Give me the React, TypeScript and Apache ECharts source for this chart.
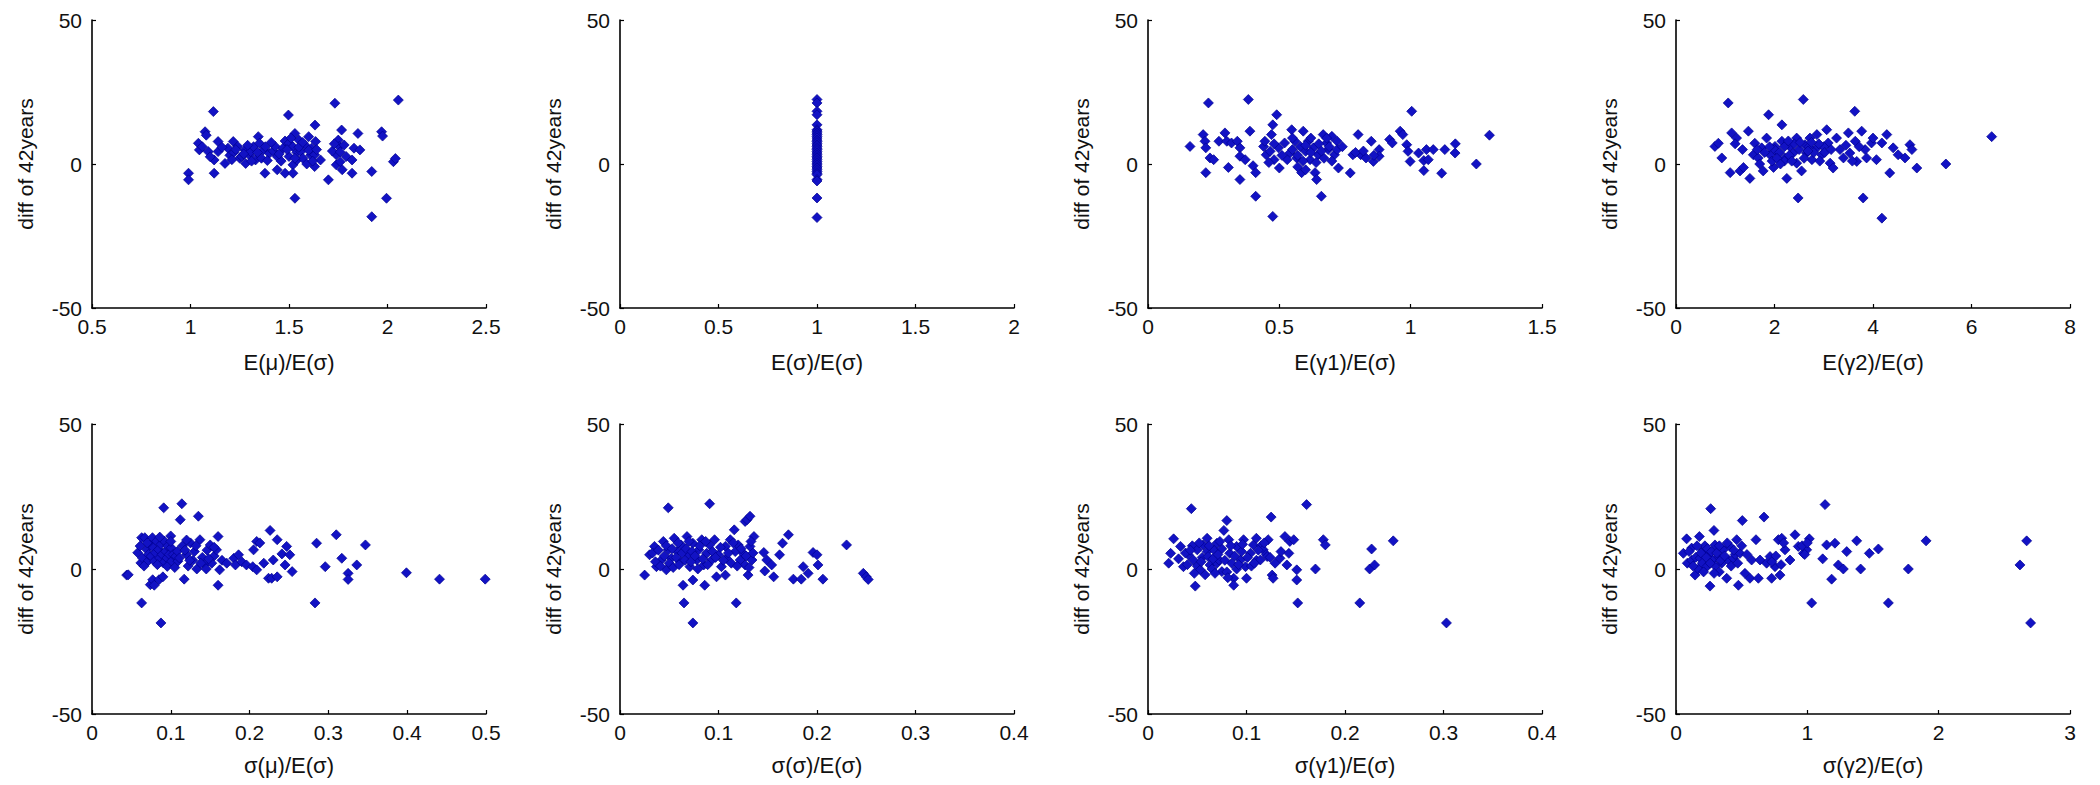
import React, { useEffect, useRef } from "react";
import * as echarts from "echarts";

// ---------- data ----------
const yAxisTitle = "diff of 42years";
const xTitles = [
  "E(μ)/E(σ)",
  "E(σ)/E(σ)",
  "E(γ1)/E(σ)",
  "E(γ2)/E(σ)",
  "σ(μ)/E(σ)",
  "σ(σ)/E(σ)",
  "σ(γ1)/E(σ)",
  "σ(γ2)/E(σ)",
];
// [min, max, interval] for each panel's x axis
const xRanges: [number, number, number][] = [
  [0.5, 2.5, 0.5],
  [0, 2, 0.5],
  [0, 1.5, 0.5],
  [0, 8, 2],
  [0, 0.5, 0.1],
  [0, 0.4, 0.1],
  [0, 0.4, 0.1],
  [0, 3, 1],
];
const yRange: [number, number, number] = [-50, 50, 50];

const meanMu: [number, number][] = [
  [0.99, -3.2], [0.99, -5.5], [1.04, 7.2], [1.045, 4.9], [1.074, 11.2], [1.08, 10], [1.09, 4.3], [1.116, 18.2],
  [1.12, 1.4], [1.12, -3.2], [1.14, 7.8], [1.14, 4.3], [1.175, 0.2], [1.19, 5.5], [1.2, 3], [1.217, 7.8],
  [1.22, 4], [1.24, 6.1], [1.25, 2], [1.26, 2.6], [1.277, 4.9], [1.28, 0.2], [1.3, 3], [1.305, 4.3],
  [1.32, 6], [1.33, 1.4], [1.344, 9.5], [1.35, 7.2], [1.36, 2], [1.37, 4.9], [1.378, -3.2], [1.4, 3.7],
  [1.42, 4.5], [1.43, 6.1], [1.44, 2.6], [1.44, -2], [1.46, 1], [1.47, 5.5], [1.48, 8], [1.48, -3.2],
  [1.497, 17], [1.5, 7.2], [1.5, 2.6], [1.52, 6], [1.52, -0.3], [1.52, -3.2], [1.53, -11.9], [1.53, 10.6],
  [1.54, 1.4], [1.54, 4], [1.55, 8.3], [1.56, 4.3], [1.57, 2], [1.58, 6.6], [1.59, 0], [1.6, 9.5],
  [1.61, 3], [1.615, 5.5], [1.63, 3.2], [1.632, 13.5], [1.635, 7.8], [1.63, -0.9], [1.66, 1.4], [1.7, -5.5],
  [1.733, 21.1], [1.74, 3.2], [1.74, -0.3], [1.75, 8.3], [1.755, 6.1], [1.76, 0.8], [1.767, 11.8], [1.77, -2],
  [1.78, 6.6], [1.79, 2.6], [1.82, 1.4], [1.82, -3.2], [1.83, 5.5], [1.85, 10.6], [1.86, 4.9], [1.92, -2.6],
  [1.92, -18.3], [1.97, 11.2], [1.975, 9.7], [1.995, -11.9], [2.03, 0.8], [2.04, 1.9], [2.055, 22.2],
  [1.06, 6], [1.1, 2.5], [1.16, 5.8], [1.21, 1.5], [1.23, 5], [1.27, 3.5], [1.29, 6.5], [1.31, 1],
  [1.34, 4], [1.38, 6], [1.39, 1.2], [1.41, 7.5], [1.45, 3.5], [1.49, 5], [1.51, 9], [1.53, 2],
  [1.55, 5.8], [1.57, 7.5], [1.6, 4.8], [1.62, 1], [1.64, 5], [1.72, 4.5], [1.73, 7], [1.76, 4.2],
];

const meanSigma: [number, number][] = [
  [1, 22.4], [1, 21.2], [1, 18.3], [1, 17.1], [1, 13.6], [1, 11.9], [1, 11.4], [1, 10.8], [1, 10.2],
  [1, 9.6], [1, 9.0], [1, 8.3], [1, 7.8], [1, 7.2], [1, 6.6], [1, 6.1], [1, 5.5], [1, 5.0], [1, 4.4],
  [1, 3.8], [1, 3.2], [1, 2.6], [1, 2.1], [1, 1.5], [1, 0.9], [1, 0.3], [1, -0.3], [1, -0.9], [1, -1.4],
  [1, -2.0], [1, -2.6], [1, -3.2], [1, -3.7], [1, -5.4], [1, -5.9], [1, -11.8], [1, -18.6],
];

const meanG1: [number, number][] = [
  [0.16, 6.1], [0.21, 10.2], [0.217, 7.9], [0.22, 5.6], [0.23, 21.2], [0.236, 2.1], [0.25, 1.5], [0.22, -3.0],
  [0.27, 7.9], [0.293, 10.8], [0.3, 7.9], [0.318, 7.3], [0.34, 7.9], [0.35, 5.6], [0.306, -1.2], [0.35, 2.7],
  [0.37, 1.5], [0.382, 22.4], [0.388, 11.4], [0.35, -5.4], [0.4, -0.6], [0.41, -3], [0.41, -11.2], [0.475, -18.2],
  [0.475, 13.6], [0.47, 10.2], [0.49, 17.1], [0.44, 6.1], [0.45, 3.2], [0.445, 7.9], [0.465, 4.4], [0.48, 1.5],
  [0.497, 5.6], [0.5, -1.4], [0.52, 7.3], [0.547, 11.9], [0.54, 3.8], [0.56, 7.9], [0.566, 2.1], [0.58, 6.1],
  [0.585, -3], [0.591, 11.4], [0.6, 4.4], [0.61, 7.9], [0.617, 1.5], [0.63, 5.6], [0.636, -3], [0.642, -5.4],
  [0.648, 3.2], [0.66, -11.2], [0.667, 10.2], [0.68, 7.3], [0.686, 5.0], [0.7, 9.6], [0.71, 3.2], [0.72, 7.9],
  [0.725, -1.4], [0.77, -3.1], [0.78, 3.2], [0.8, 10.2], [0.81, 3.2], [0.83, 2.1], [0.85, 7.9], [0.858, 0.9],
  [0.88, 5.0], [0.88, 2.7], [0.92, 8.5], [0.93, 7.3], [0.96, 11.4], [0.97, 10.2], [0.985, 6.7], [0.99, 4.4],
  [0.998, 0.9], [1.004, 18.3], [1.03, 3.8], [1.05, -2.3], [1.05, 1.2], [1.06, 5], [1.067, 1.5], [1.086, 5.0],
  [1.118, -3.2], [1.13, 5], [1.169, 3.8], [1.17, 7], [1.25, 0], [1.3, 10],
  [0.55, 5], [0.57, 3], [0.59, 1], [0.62, 4], [0.65, 7], [0.67, 2], [0.69, 6], [0.53, 1.5], [0.6, 6.5],
  [0.46, 0.5], [0.48, 7], [0.51, 3], [0.55, 9], [0.57, -1], [0.6, -2], [0.62, 9], [0.64, 0.5],
  [0.66, 4.5], [0.68, 9], [0.7, 1], [0.72, 5], [0.74, 6], [0.79, 4], [0.82, 4.5], [0.86, 3],
];

const meanG2: [number, number][] = [
  [0.79, 6.1], [0.86, 7.2], [0.93, 2.1], [1.06, 21.2], [1.1, -3.0], [1.13, 10.8], [1.23, 9.0], [1.3, -2.4],
  [1.37, -1.2], [1.47, 11.4], [1.5, -5], [1.57, 3.2], [1.6, 7.2], [1.67, 2.1], [1.74, 5.6], [1.77, -2.4],
  [1.84, 9.0], [1.88, 17.1], [1.91, 3.2], [1.98, -1.2], [2.01, 6.1], [2.08, 3.8], [2.15, 7.9], [2.15, 13.6],
  [2.21, 2.1], [2.25, -5], [2.31, 6.1], [2.38, 3.8], [2.45, 9.0], [2.45, 0.3], [2.48, -11.8], [2.55, -2.4],
  [2.585, 22.4], [2.62, 6.7], [2.65, 3.8], [2.72, 9.0], [2.76, 1.5], [2.86, 5.6], [2.86, 10.2], [2.96, 3.2],
  [3.06, 11.9], [3.09, 7.3], [3.13, 0.3], [3.19, -1.4], [3.26, 9.0], [3.33, 5.0], [3.4, 2.1], [3.5, 10.8],
  [3.53, 3.8], [3.63, 18.3], [3.64, 7.9], [3.67, 0.9], [3.77, 11.4], [3.8, -11.8], [3.84, 5.0], [3.87, 2.1],
  [3.97, 7.3], [4.0, 9.0], [4.07, 1.5], [4.18, -18.8], [4.18, 7.3], [4.28, 10.2], [4.34, -3.1], [4.41, 5.6],
  [4.51, 3.2], [4.65, 2.1], [4.75, 6.7], [4.79, 5.0], [4.89, -1.4], [5.48, 0], [6.41, 9.5],
  [2.0, 5], [2.1, 4], [2.2, 6], [2.3, 3], [2.5, 5], [2.6, 2], [2.7, 6], [2.8, 4], [1.8, 4], [1.9, 6],
  [2.4, 7], [3.0, 6], [2.2, 1], [2.9, 7],
  [1.2, 7], [1.35, 5], [1.65, 5], [1.7, 0], [1.95, 1], [2.05, 2], [2.12, 0], [2.28, 8], [2.35, 1],
  [2.52, 7.5], [2.68, 4.5], [2.75, 7.5], [2.92, 1], [3.02, 4], [3.15, 5], [3.45, 6.5], [3.58, 1], [3.72, 6],
];

const sdMu: [number, number][] = [
  [0.044, -2.1], [0.046, -2], [0.058, 5.6], [0.061, 7.9], [0.062, 2.1], [0.063, 10.8], [0.063, -11.7], [0.064, 3.8],
  [0.067, 10.8], [0.0695, 6.7], [0.071, 2.7], [0.0716, 5.0], [0.074, -5.4], [0.0736, 8.5], [0.075, 4.4], [0.0767, 10.8],
  [0.077, -3.7], [0.078, 7.3], [0.079, -5.6], [0.0793, 2.7], [0.0806, 5.6], [0.082, 9.6], [0.0845, 6.7], [0.085, -3.7],
  [0.0857, 3.8], [0.0875, -18.6], [0.0876, 8.5], [0.089, 5.0], [0.09, -2.7], [0.0906, 2.1], [0.091, 21.1], [0.092, 9.6],
  [0.0935, 6.1], [0.095, 3.8], [0.0955, 0.9], [0.096, 7.9], [0.098, 5.0], [0.0999, 11.4], [0.1005, 7.3], [0.101, 2.7],
  [0.103, 5.0], [0.1065, 4.4], [0.1085, 6.1], [0.109, 2.7], [0.111, 3.8], [0.112, 17], [0.114, 22.5], [0.117, -3.5],
  [0.115, 8], [0.12, 5], [0.122, 1], [0.125, 9], [0.128, 3], [0.13, 6], [0.133, 0], [0.135, 18.2],
  [0.137, 10.1], [0.14, 4], [0.143, 1.5], [0.146, 6.5], [0.15, 8.3], [0.152, 2], [0.155, 4.5], [0.158, 6.6],
  [0.16, 11.2], [0.16, -5.6], [0.162, -0.3], [0.165, 3], [0.171, 2.0], [0.18, 3.7], [0.182, 1.4], [0.186, 4.9],
  [0.19, 2.5], [0.196, 1.4], [0.204, 0.8], [0.205, 6.6], [0.209, 9.5], [0.209, -0.3], [0.213, 9], [0.218, 2.0],
  [0.224, -3.2], [0.226, 13.3], [0.228, -3.2], [0.23, 3.1], [0.235, 10.1], [0.235, -2.7], [0.241, 5.2], [0.245, 1.4],
  [0.247, 7.8], [0.251, 4.9], [0.254, -0.9], [0.283, -11.7], [0.285, 8.9], [0.296, 0.8], [0.31, 11.8], [0.317, 3.7],
  [0.325, -1.5], [0.325, -3.6], [0.336, 1.4], [0.347, 8.3], [0.399, -1.3], [0.441, -3.5], [0.499, -3.5],
  [0.066, 1], [0.07, 9], [0.083, 1.5], [0.086, 11], [0.1, 9.5], [0.105, 0.5], [0.118, 6.5], [0.12, 10],
  [0.124, 3], [0.132, 8], [0.138, 2], [0.145, 0], [0.148, 3.5], [0.155, 7.5],
];

const sdSigma: [number, number][] = [
  [0.025, -2.1], [0.03, 4.9], [0.035, 7.8], [0.037, 0.8], [0.042, 3.1], [0.044, 9.5], [0.047, -0.3], [0.049, 6.6],
  [0.049, 21.1], [0.052, 3.7], [0.055, 10.6], [0.058, 6.0], [0.061, 2.5], [0.062, 8.3], [0.064, -5.6], [0.065, -11.7],
  [0.068, 11.2], [0.069, 4.9], [0.071, 0.8], [0.074, 8.9], [0.074, -3.8], [0.074, -18.6], [0.078, 3.1], [0.08, 6.6],
  [0.083, 10.1], [0.085, 1.4], [0.086, -5.6], [0.088, 5.4], [0.091, 8.3], [0.091, 22.5], [0.093, 3.1], [0.096, 10.1],
  [0.098, -2.7], [0.1, 4.9], [0.103, 0.8], [0.107, 7.8], [0.107, -2.1], [0.108, 3.7], [0.112, 10.1], [0.113, 2.0],
  [0.116, 13.5], [0.117, 6.0], [0.118, -11.7], [0.12, 8.3], [0.122, 3.1], [0.125, 5.4], [0.127, 1.4], [0.127, 16.4],
  [0.129, 17], [0.13, -2.1], [0.132, 7.8], [0.132, 18.2], [0.134, 3.1], [0.136, 11.2], [0.146, 5.7], [0.147, -0.7],
  [0.149, 3.1], [0.154, 1.4], [0.156, -2.7], [0.162, 4.9], [0.165, 8.9], [0.171, 11.8], [0.176, -3.5], [0.184, -3.5],
  [0.186, 0.8], [0.191, -1.5], [0.196, 5.7], [0.2, 4.9], [0.201, 1.4], [0.206, -3.5], [0.23, 8.3], [0.247, -1.5],
  [0.25, -2.7], [0.252, -3.6],
  [0.033, 5.5], [0.036, 2.5], [0.039, 6.5], [0.041, 1], [0.045, 4.5], [0.047, 8], [0.05, 2], [0.053, 7],
  [0.054, 0.5], [0.057, 4], [0.059, 9], [0.06, 1.5], [0.063, 5.5], [0.066, 3], [0.067, 7], [0.07, 9.5],
  [0.072, 2.5], [0.073, 6], [0.076, 4.5], [0.079, 0], [0.081, 8], [0.084, 3.5], [0.087, 9.5], [0.089, 1.5],
  [0.094, 6], [0.097, 4], [0.102, 7.5], [0.105, 3], [0.11, 5.5], [0.115, 9], [0.119, 1], [0.123, 7],
  [0.128, 4.5], [0.131, 0.5], [0.133, 9.5], [0.135, 5.5],
];

const sdG1: [number, number][] = [
  [0.021, 2], [0.023, 5.4], [0.026, 10.4], [0.033, 7.8], [0.036, 0.8], [0.041, 4.9], [0.044, 20.8], [0.045, 8],
  [0.046, 3.1], [0.048, -5.9], [0.05, 6.6], [0.05, 1], [0.053, -0.3], [0.055, 4], [0.056, 8.3], [0.06, 10.6],
  [0.06, 6], [0.061, 4.3], [0.063, 1.4], [0.065, 0], [0.067, 6.6], [0.07, 8.9], [0.07, 2], [0.072, 3.1],
  [0.075, -0.9], [0.075, 7], [0.077, 13.3], [0.08, 16.7], [0.08, -1], [0.082, 10.1], [0.083, 5.4], [0.085, 2],
  [0.087, -3.2], [0.087, -5.6], [0.09, 7.8], [0.09, 0], [0.094, 3.1], [0.095, 6], [0.097, 10.1], [0.099, 0.8],
  [0.1, -3.2], [0.104, 5.4], [0.105, 1], [0.107, 8.3], [0.11, 10.6], [0.11, 3], [0.114, 3.1], [0.115, 8],
  [0.117, 6.6], [0.12, 5], [0.121, 4.3], [0.122, 10.1], [0.125, 17.9], [0.126, -2.1], [0.127, -3.2], [0.129, 2.0],
  [0.134, 3.7], [0.135, 6], [0.139, 11.2], [0.141, 1.4], [0.143, 5.4], [0.144, 9.5], [0.148, 10.1], [0.151, -0.3],
  [0.151, -3.8], [0.152, -11.7], [0.161, 22.2], [0.17, 0], [0.178, 10.1], [0.18, 8.3], [0.215, -11.7], [0.225, 0],
  [0.227, 6.9], [0.23, 1.4], [0.249, 9.7], [0.303, -18.6],
  [0.031, 3.5], [0.038, 5.5], [0.04, 1.5], [0.043, 6.5], [0.047, -1.5], [0.052, 9], [0.054, 2.5], [0.058, -2],
  [0.062, 8], [0.066, 3.5], [0.068, -1.5], [0.071, 5], [0.073, 9.5], [0.078, 3], [0.081, -3], [0.084, 8],
  [0.088, 4.5], [0.092, 1.5], [0.096, 8.5], [0.101, 4], [0.108, 2], [0.112, 6.5], [0.118, 9], [0.124, 4],
];

const sdG2: [number, number][] = [
  [0.056, 5.4], [0.081, 10.4], [0.086, 2.0], [0.119, 7.2], [0.12, 3], [0.145, -2.1], [0.15, 4], [0.17, 0],
  [0.178, 11.2], [0.183, 3.7], [0.2, 2], [0.208, 6.6], [0.22, 8], [0.234, 0.8], [0.25, 5], [0.259, -5.9],
  [0.264, 20.8], [0.28, 3], [0.289, 13.3], [0.297, 8.3], [0.3, 1], [0.322, 4.3], [0.33, -1], [0.348, 2.0],
  [0.35, 7], [0.36, 6.6], [0.386, -3.2], [0.4, 3], [0.411, 7.8], [0.437, 3.7], [0.45, 5], [0.462, 10.1],
  [0.475, -5.6], [0.487, 5.4], [0.505, 16.7], [0.525, -1.5], [0.563, -3.2], [0.576, 3.1], [0.609, 10.1], [0.627, -3.2],
  [0.64, 3.1], [0.67, 17.9], [0.69, 2.0], [0.716, 4.3], [0.728, -3.2], [0.754, 0.8], [0.779, 10.1], [0.792, -2.1],
  [0.805, 10.6], [0.83, 6.6], [0.868, 3.1], [0.906, 11.8], [0.931, 7.8], [0.97, 5.4], [0.995, 6.6], [1.015, 10.4],
  [1.033, -11.7], [1.117, 3.5], [1.135, 22.2], [1.147, 8.3], [1.185, -3.5], [1.21, 8.9], [1.236, 1.4], [1.274, 0],
  [1.3, 6.0], [1.376, 9.7], [1.406, 0], [1.472, 5.4], [1.541, 6.9], [1.617, -11.7], [1.769, 0], [1.904, 9.7],
  [2.619, 1.4], [2.67, 9.7], [2.7, -18.6],
  [0.1, 6], [0.13, 1], [0.16, 8], [0.19, 5.5], [0.21, -1], [0.23, 4], [0.24, 7], [0.26, 2],
  [0.27, 6], [0.29, -1.5], [0.31, 5.5], [0.33, 8], [0.34, 3], [0.37, 4.5], [0.39, 9], [0.42, 1],
  [0.44, 6.5], [0.47, 2], [0.5, 8], [0.54, 5], [0.73, 2.5], [0.76, 4.5], [0.8, 1.5], [0.82, 9],
  [0.96, 8], [0.98, 5], [1.0, 9],
];

const panelData = [meanMu, meanSigma, meanG1, meanG2, sdMu, sdSigma, sdG1, sdG2];

// ---------- layout ----------
const colLefts = [92, 620, 1148, 1676];
const rowTops = [20, 424];
const plotW = 394;
const rowHeights = [288, 290];
const xNameGaps = [43, 40];

const FONT = "'Liberation Sans', Arial, sans-serif";

export default function App() {
  const ref = useRef<HTMLDivElement>(null);
  useEffect(() => {
    if (!ref.current) return;
    const chart = echarts.init(ref.current, undefined, { renderer: "svg" });
    const grids: any[] = [];
    const xAxes: any[] = [];
    const yAxes: any[] = [];
    const series: any[] = [];
    panelData.forEach((pts, i) => {
      const row = Math.floor(i / 4);
      const col = i % 4;
      grids.push({
        left: colLefts[col],
        top: rowTops[row],
        width: plotW,
        height: rowHeights[row],
        containLabel: false,
      });
      const [mn, mx, iv] = xRanges[i];
      const axisCommon = {
        axisLine: { show: true, onZero: false, lineStyle: { color: "#000", width: 1.6 } },
        axisTick: { show: true, inside: true, length: 4, lineStyle: { color: "#000", width: 1.2 } },
        splitLine: { show: false },
        axisLabel: { color: "#111", fontSize: 21, fontFamily: FONT },
        nameTextStyle: { color: "#111", fontSize: 22, fontFamily: FONT },
      };
      xAxes.push({
        ...axisCommon,
        type: "value",
        gridIndex: i,
        min: mn,
        max: mx,
        interval: iv,
        name: xTitles[i],
        nameLocation: "middle",
        nameGap: xNameGaps[row],
        axisLabel: { ...axisCommon.axisLabel, margin: 8 },
      });
      yAxes.push({
        ...axisCommon,
        type: "value",
        gridIndex: i,
        min: yRange[0],
        max: yRange[1],
        interval: yRange[2],
        name: yAxisTitle,
        nameLocation: "middle",
        nameRotate: 90,
        nameGap: 56,
        nameTextStyle: { ...axisCommon.nameTextStyle, fontSize: 21 },
        axisLabel: { ...axisCommon.axisLabel, margin: 10 },
      });
      series.push({
        type: "scatter",
        xAxisIndex: i,
        yAxisIndex: i,
        data: pts,
        symbol: "diamond",
        symbolSize: 10,
        itemStyle: { color: "#1212c4", borderColor: "#000090", borderWidth: 0.7, opacity: 1 },
        emphasis: { disabled: true },
      });
    });
    chart.setOption({
      animation: false,
      backgroundColor: "#ffffff",
      grid: grids,
      xAxis: xAxes,
      yAxis: yAxes,
      series,
    });
    return () => chart.dispose();
  }, []);
  return (
    <div
      ref={ref}
      style={{ position: "absolute", left: 0, top: 0, width: 2100, height: 785, background: "#fff" }}
    />
  );
}
